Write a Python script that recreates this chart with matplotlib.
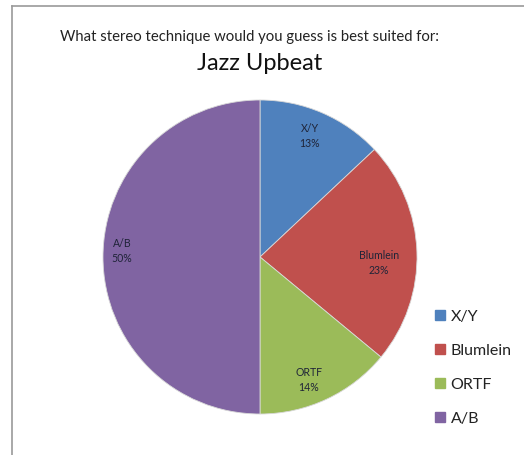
import matplotlib.pyplot as plt
from matplotlib.lines import Line2D

# survey answers for the "Jazz Upbeat" clip
techniques = ['X/Y', 'Blumlein', 'ORTF', 'A/B']
shares = [13, 23, 14, 50]
colors = ['#4F81BD', '#C0504D', '#9BBB59', '#8064A2']

plt.rcParams['font.family'] = ['Lato', 'DejaVu Sans']

fig = plt.figure(figsize=(5.24, 4.55), dpi=100)
fig.patch.set_facecolor('white')

# chart frame (top and left edges)
fig.add_artist(Line2D([12 / 524, 12 / 524], [0.0, 1 - 6 / 455], color='#9a9a9a', lw=1.2))
fig.add_artist(Line2D([12 / 524, 1.0], [1 - 6 / 455, 1 - 6 / 455], color='#9a9a9a', lw=1.2))

fig.text(250 / 524, 1 - 37 / 455, 'What stereo technique would you guess is best suited for:',
         ha='center', va='center', fontsize=10.7, color='#222222')
fig.text(260 / 524, 1 - 63 / 455, 'Jazz Upbeat', ha='center', va='center',
         fontsize=17, color='#111111')

# pie centered near (260, 257) px with radius ~157 px
cx, cy, r = 260, 257, 157
ax = fig.add_axes([(cx - r) / 524, 1 - (cy + r) / 455, 2 * r / 524, 2 * r / 455])
wedges, texts = ax.pie(shares, colors=colors, startangle=90, counterclock=False,
                       wedgeprops=dict(edgecolor='#d8d8d8', linewidth=0.6))
ax.set_aspect('auto')
ax.set_xlim(-1, 1)
ax.set_ylim(-1, 1)

# data labels, placed in pixel positions converted to pie coords
label_px = [(310, 136), (379, 263), (309, 380), (122, 251)]
for name, val, (px, py) in zip(techniques, shares, label_px):
    x = (px - cx) / r
    y = (cy - py) / r
    ax.text(x, y, f'{name}\n{val}%', ha='center', va='center', fontsize=7.6,
            color='#1f2438', linespacing=1.5)

handles = [plt.Rectangle((0, 0), 1, 1, color=c) for c in colors]
fig.legend(handles, techniques, loc='center left', bbox_to_anchor=(421 / 524, 1 - 368 / 455),
           frameon=False, fontsize=11.5, handlelength=0.6, handleheight=0.6,
           handletextpad=0.35, labelspacing=1.25, labelcolor='#222222')

fig.savefig('out.png', dpi=100, facecolor='white')
